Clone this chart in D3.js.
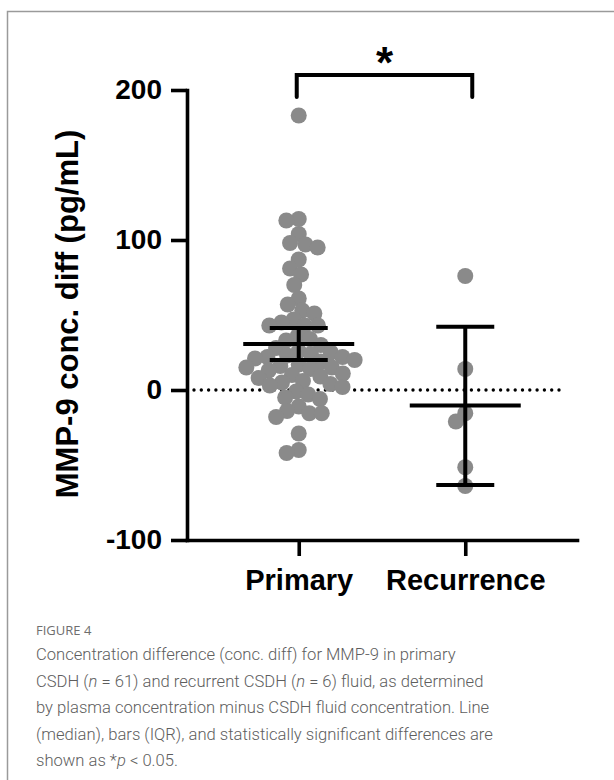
<!DOCTYPE html>
<html>
<head>
<meta charset="utf-8">
<script src="https://cdn.jsdelivr.net/npm/d3@7"></script>
<style>
  body { margin: 0; background: #fff; }
  svg { display: block; }
</style>
</head>
<body>
<div id="chart"></div>
<script>
// values
const categories = ["Primary", "Recurrence"];
const primaryValues = [
  183, 114, 113, 104, 98, 97, 95, 87, 81, 77, 70, 61, 57, 53, 51, 47, 45, 43, 43, 43,
  36, 34, 33, 30, 28, 26, 25, 24, 23, 22, 20, 22, 21, 19, 15, 15, 17, 16, 14, 13,
  11, 10, 9, 8, 6, 5, 4, 3, 2, -1, -3, -5, -6, -11, -14, -15.5, -15.5, -18, -29, -40, -42
];
const recurrenceValues = [76, 14, -15.5, -21, -51.5, -64];
// error bar ends as drawn
const barLow = [20, -63.3];
const barHigh = [41.3, 42.2];
const yTicks = [-100, 0, 100, 200];
const yTitle = "MMP-9 conc. diff (pg/mL)";

const width = 614, height = 780;
const font = "'Liberation Sans', Arial, sans-serif";

const svg = d3.select("#chart").append("svg")
  .attr("width", width)
  .attr("height", height);

// frame
svg.append("path")
  .attr("d", "M7.5,780 V11.5 H614")
  .attr("fill", "none")
  .attr("stroke", "#9a9a9a")
  .attr("stroke-width", 1.5);

const y = d3.scaleLinear().domain([-100, 200]).range([540, 90]);
const x = d3.scalePoint().domain(categories).range([187, 577]).padding(0.671);

// zero reference line
svg.append("line")
  .attr("x1", 194).attr("x2", 562)
  .attr("y1", y(0)).attr("y2", y(0))
  .attr("stroke", "#000")
  .attr("stroke-width", 3.4)
  .attr("stroke-linecap", "round")
  .attr("stroke-dasharray", "0,7.3");

// simple beeswarm: put each point as near the centre as it can go
function swarm(values, cx, dist) {
  const placed = [];
  values.slice().sort((a, b) => b - a).forEach((v) => {
    const py = y(v);
    const blocks = [];
    placed.forEach((p) => {
      const dy = Math.abs(p.y - py);
      if (dy < dist) {
        const w = Math.sqrt(dist * dist - dy * dy);
        blocks.push([p.x - w, p.x + w]);
      }
    });
    let cands = [cx];
    blocks.forEach((b) => cands.push(b[0], b[1]));
    cands.sort((a, b) => Math.abs(a - cx) - Math.abs(b - cx));
    const px = cands.find((c) => blocks.every((b) => c <= b[0] + 1e-6 || c >= b[1] - 1e-6));
    placed.push({ x: px, y: py, v: v });
  });
  return placed;
}

const groups = [primaryValues, recurrenceValues];
groups.forEach((vals, i) => {
  const pts = swarm(vals, x(categories[i]), 12.5);
  svg.append("g")
    .selectAll("circle")
    .data(pts)
    .enter()
    .append("circle")
    .attr("cx", (d) => d.x)
    .attr("cy", (d) => d.y)
    .attr("r", 8)
    .attr("fill", "#8a8a8a");
});

// centre line (mean) and error bars
categories.forEach((c, i) => {
  const cx = x(c);
  const m = d3.mean(groups[i]);
  const g = svg.append("g")
    .attr("stroke", "#000")
    .attr("stroke-width", 4);
  g.append("line")
    .attr("x1", cx).attr("x2", cx)
    .attr("y1", y(barLow[i])).attr("y2", y(barHigh[i]));
  g.append("line")
    .attr("x1", cx - 29).attr("x2", cx + 29)
    .attr("y1", y(barLow[i])).attr("y2", y(barLow[i]));
  g.append("line")
    .attr("x1", cx - 29).attr("x2", cx + 29)
    .attr("y1", y(barHigh[i])).attr("y2", y(barHigh[i]));
  g.append("line")
    .attr("x1", cx - 55.5).attr("x2", cx + 55.5)
    .attr("y1", y(m)).attr("y2", y(m));
});

// axes
const yAxis = svg.append("g")
  .attr("transform", "translate(187,0)")
  .call(d3.axisLeft(y).tickValues(yTicks).tickFormat((d) => String(d)).tickSize(16).tickSizeOuter(0).tickPadding(9));

const xAxis = svg.append("g")
  .attr("transform", "translate(0,540)")
  .call(d3.axisBottom(x).tickSize(16).tickSizeOuter(0).tickPadding(13));

[yAxis, xAxis].forEach((ax) => {
  ax.select(".domain").attr("stroke-width", 3.6).attr("stroke-linecap", "square");
  ax.selectAll(".tick line").attr("stroke-width", 3.6);
  ax.selectAll("text")
    .attr("fill", "#000")
    .style("font-family", font)
    .style("font-weight", "bold");
});
yAxis.selectAll("text").style("font-size", "28px");
xAxis.selectAll("text").style("font-size", "29px");

svg.append("text")
  .attr("transform", "translate(78,314) rotate(-90)")
  .attr("text-anchor", "middle")
  .style("font-family", font)
  .style("font-weight", "bold")
  .style("font-size", "31px")
  .text(yTitle);

// significance bracket
const x0 = x(categories[0]) - 2, x1 = x(categories[1]) + 7;
svg.append("path")
  .attr("d", `M${x0},97 V75 H${x1} V97`)
  .attr("fill", "none")
  .attr("stroke", "#000")
  .attr("stroke-width", 4)
  .attr("stroke-linecap", "round");
svg.append("text")
  .attr("x", (x0 + x1) / 2)
  .attr("y", 78)
  .attr("text-anchor", "middle")
  .style("font-family", font)
  .style("font-weight", "bold")
  .style("font-size", "44px")
  .text("*");

// caption
const capFont = "Roboto, 'Open Sans', sans-serif";
svg.append("text")
  .attr("x", 36).attr("y", 635)
  .attr("fill", "#6e6e6e")
  .style("font-family", "'Open Sans', sans-serif")
  .style("font-weight", 500)
  .style("font-size", "13px")
  .text("FIGURE 4");

const captionLines = [
  [["Concentration difference (conc. diff) for MMP-9 in primary", false]],
  [["CSDH (", false], ["n", true], [" = 61) and recurrent CSDH (", false], ["n", true], [" = 6) fluid, as determined", false]],
  [["by plasma concentration minus CSDH fluid concentration. Line", false]],
  [["(median), bars (IQR), and statistically significant differences are", false]],
  [["shown as *", false], ["p", true], [" < 0.05.", false]]
];
captionLines.forEach((parts, i) => {
  const t = svg.append("text")
    .attr("x", 36).attr("y", 660 + i * 26.5)
    .attr("fill", "#5e5e5e")
    .style("font-family", capFont)
    .style("font-weight", 300)
    .style("font-size", "16.6px");
  parts.forEach((p) => {
    t.append("tspan")
      .style("font-style", p[1] ? "italic" : "normal")
      .text(p[0]);
  });
});
</script>
</body>
</html>
